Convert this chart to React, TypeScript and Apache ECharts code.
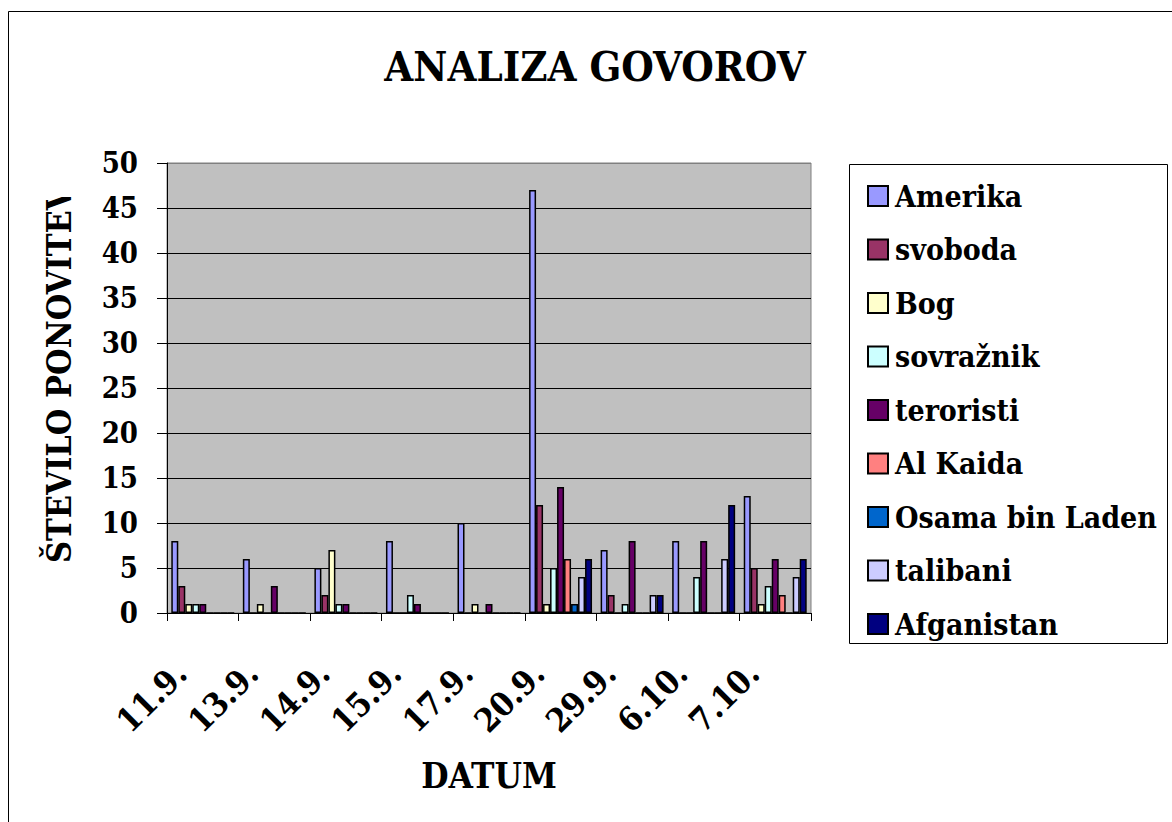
import React, { useEffect, useRef } from "react";
import * as echarts from "echarts";

const categories = ["11.9.", "13.9.", "14.9.", "15.9.", "17.9.", "20.9.", "29.9.", "6.10.", "7.10."];
const seriesNames = ["Amerika", "svoboda", "Bog", "sovražnik", "teroristi", "Al Kaida", "Osama bin Laden", "talibani", "Afganistan"];
const seriesColors = ["#9999FF", "#993366", "#FFFFCC", "#CCFFFF", "#660066", "#FF8080", "#0066CC", "#CCCCFF", "#000080"];
const amerika = [8, 6, 5, 8, 10, 47, 7, 8, 13];
const svoboda = [3, 0, 2, 0, 0, 12, 2, 0, 5];
const bog = [1, 1, 7, 0, 1, 1, 0, 0, 1];
const sovraznik = [1, 0, 1, 2, 0, 5, 1, 4, 3];
const teroristi = [1, 3, 1, 1, 1, 14, 8, 8, 6];
const alKaida = [0, 0, 0, 0, 0, 6, 0, 0, 2];
const osama = [0, 0, 0, 0, 0, 1, 0, 0, 0];
const talibani = [0, 0, 0, 0, 0, 4, 2, 6, 4];
const afganistan = [0, 0, 0, 0, 0, 6, 2, 12, 6];
const seriesValues = [amerika, svoboda, bog, sovraznik, teroristi, alKaida, osama, talibani, afganistan];
const yTicks = [0, 5, 10, 15, 20, 25, 30, 35, 40, 45, 50];

const FONT = "DejaVu Serif Condensed";

export default function App() {
  const ref = useRef<HTMLDivElement>(null);
  useEffect(() => {
    if (!ref.current) return;
    const chart = echarts.init(ref.current, undefined, { renderer: "svg" });
    const gridColors = yTicks.map((t, i) => (i === yTicks.length - 1 ? "#808080" : "#000000"));
    chart.setOption({
      animation: false,
      backgroundColor: "#ffffff",
      textStyle: { fontFamily: FONT },
      grid: {
        left: 167,
        right: 361,
        top: 163,
        bottom: 209,
        show: true,
        backgroundColor: "#C0C0C0",
        borderColor: "#808080",
        borderWidth: 1,
      },
      legend: {
        orient: "vertical",
        left: 862,
        top: 173,
        itemWidth: 20,
        itemHeight: 20,
        itemGap: 17.5,
        icon: "rect",
        data: seriesNames,
        textStyle: {
          fontFamily: FONT,
          fontWeight: "bold",
          fontSize: 30,
          lineHeight: 36,
          padding: [0, 0, 0, 2],
          color: "#000",
        },
      },
      xAxis: {
        type: "category",
        data: categories,
        name: "DATUM",
        nameLocation: "middle",
        nameGap: 145,
        nameTextStyle: { fontFamily: FONT, fontWeight: "bold", fontSize: 35, color: "#000" },
        axisLine: { lineStyle: { color: "#000", width: 1 } },
        axisTick: { show: true, length: 8, lineStyle: { color: "#000" } },
        axisLabel: {
          rotate: 45,
          margin: 33,
          padding: [0, 31, 0, 0],
          fontFamily: FONT,
          fontWeight: "bold",
          fontSize: 33,
          color: "#000",
          interval: 0,
        },
      },
      yAxis: {
        type: "value",
        min: 0,
        max: 50,
        interval: 5,
        axisLine: { show: true, lineStyle: { color: "#000", width: 1 } },
        axisTick: { show: true, length: 10, lineStyle: { color: "#000" } },
        axisLabel: {
          margin: 29,
          fontFamily: FONT,
          fontWeight: "bold",
          fontSize: 29,
          color: "#000",
        },
        splitLine: { show: true, lineStyle: { color: gridColors, width: 1 } },
      },
      series: seriesNames.map((name, i) => ({
        name,
        type: "bar",
        data: seriesValues[i],
        barGap: "0%",
        barCategoryGap: "12%",
        itemStyle: { color: seriesColors[i], borderColor: "#000", borderWidth: 1.5 },
      })),
      graphic: [
        {
          type: "rect",
          shape: { x: 8.5, y: 11.5, width: 1300, height: 1000 },
          style: { fill: "none", stroke: "#000", lineWidth: 1 },
          silent: true,
          z: 100,
        },
        {
          type: "rect",
          shape: { x: 849.5, y: 164.5, width: 318, height: 479 },
          style: { fill: "none", stroke: "#000", lineWidth: 1 },
          silent: true,
          z: 100,
        },
        {
          type: "text",
          x: 595,
          y: 66,
          style: {
            text: "ANALIZA GOVOROV",
            fontFamily: FONT,
            fontWeight: "bold",
            fontSize: 41.5,
            fill: "#000",
            textAlign: "center",
            textVerticalAlign: "middle",
          },
          z: 100,
        },
        {
          type: "text",
          x: 59,
          y: 563,
          rotation: Math.PI / 2,
          style: {
            text: "ŠTEVILO PONOVITEV",
            fontFamily: FONT,
            fontWeight: "bold",
            fontSize: 34,
            fill: "#000",
            textAlign: "left",
            textVerticalAlign: "middle",
          },
          z: 100,
        },
        {
          type: "rect",
          shape: { x: 30, y: 20, width: 60, height: 177 },
          style: { fill: "#ffffff" },
          silent: true,
          z: 101,
        },
      ],
    });
    return () => chart.dispose();
  }, []);
  return (
    <div
      ref={ref}
      style={{ position: "absolute", left: 0, top: 0, width: 1172, height: 822 }}
    />
  );
}
